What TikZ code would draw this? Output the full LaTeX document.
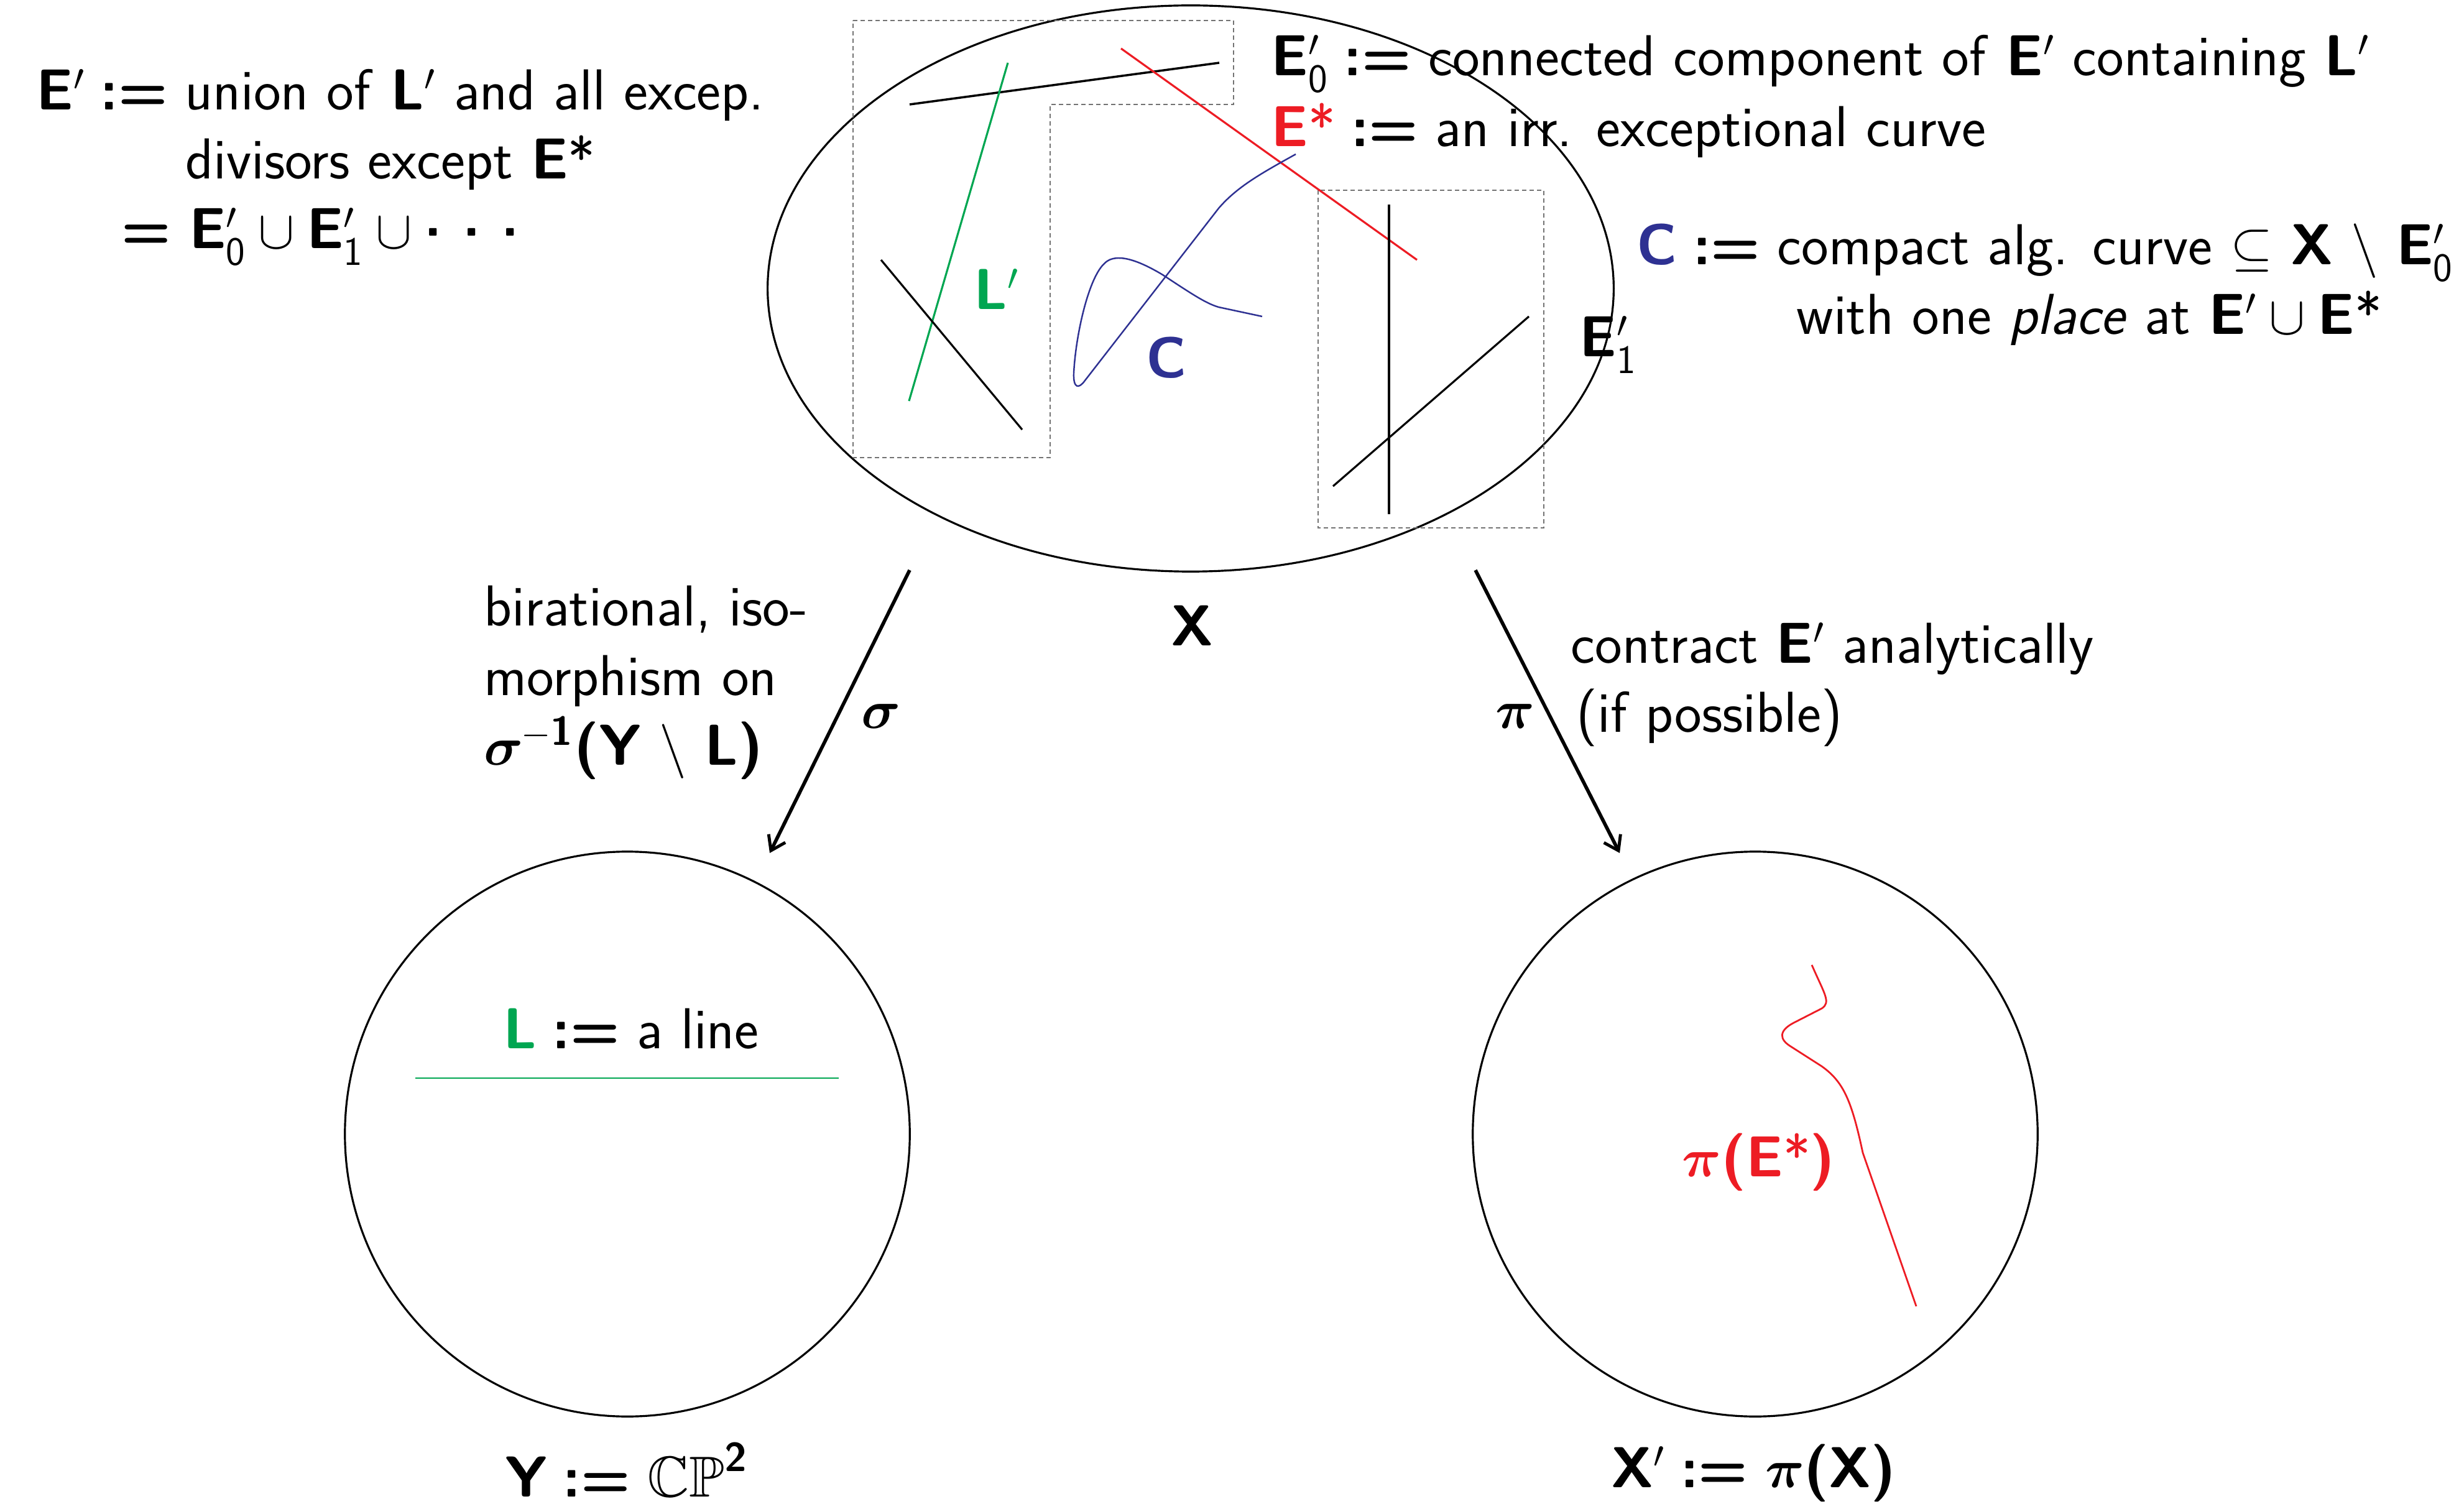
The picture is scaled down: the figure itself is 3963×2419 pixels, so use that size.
\documentclass[tikz,border=0pt]{standalone}
\usepackage{amsmath,amssymb}
\usepackage{fontspec}
\usetikzlibrary{arrows.meta,shapes.geometric}
\definecolor{cgreen}{HTML}{00A651}
\definecolor{cred}{HTML}{ED1C24}
\definecolor{cblue}{HTML}{2E3192}
\newcommand\bb[1]{\textsf{\bfseries #1}}
\newcommand\dfq{\hspace{0.27em}\textsf{\bfseries :=}\hspace{0.3em}}
\newcommand\zr{\textsf{0}}
\newcommand\on{\textsf{1}}
\newcommand\myast{\textsf{\mdseries *}}
\newcommand\bsig{{\usefont{OML}{cmm}{b}{it}\symbol{27}}}
\newcommand\bpi{{\usefont{OML}{cmm}{b}{it}\symbol{25}}}
\newcommand\dts{\raisebox{0.22em}{\bb{.}\hspace{0.36em}\bb{.}\hspace{0.36em}\bb{.}}}
\begin{document}
\begin{tikzpicture}[x=0.01cm,y=-0.01cm,
  txt/.style={anchor=base west,inner sep=0pt,font=\sffamily\fontsize{26.4}{31}\selectfont},
  ctxt/.style={anchor=base,inner sep=0pt,font=\sffamily\fontsize{26.4}{31}\selectfont},
  thin line/.style={line width=0.9pt},
  dbox/.style={draw=black!55,dash pattern=on 0.07cm off 0.05cm,line width=0.6pt},
  maparrow/.style={line width=1.6pt,-{Straight Barb[length=0.22cm,width=0.3cm,line width=1.4pt]}}]
\useasboundingbox (0,0) rectangle (3963,2419);
% top surface X
\node[draw,thin line,ellipse,minimum width=13.6cm,minimum height=9.1cm,inner sep=0pt] (Xsurf) at (1915,464) {};
% dashed regions
\draw[dbox] (1372,33) -- (1984,33) -- (1984,168) -- (1689,168) -- (1689,736) -- (1372,736) -- cycle;
\draw[dbox] (2120,306) rectangle (2483,849);
% curves in X
\draw[line width=1pt] (1463,168) -- (1961,101);
\draw[cgreen,line width=0.9pt] (1621,101) -- (1462,645);
\draw[line width=0.9pt] (1417,418) -- (1644,691);
\draw[cred,line width=0.9pt] (1803,78) -- (2279,418);
\draw[line width=0.9pt] (2234,329) -- (2234,827);
\draw[line width=0.9pt] (2459,509) -- (2144,782);
\draw[cblue,line width=0.7pt] (2084,248) .. controls (2030,278) and (1990,300) .. (1960,335)
  -- (1745,612) .. controls (1735,626) and (1726,625) .. (1727,600)
  .. controls (1730,540) and (1750,450) .. (1775,425)
  .. controls (1790,408) and (1820,412) .. (1870,442)
  .. controls (1920,475) and (1940,488) .. (1960,494) -- (2030,509);
% labels in X
\node[txt,text=cgreen] (Lp) at (1566,498) {\bb{L}$'$};
\node[txt,text=cblue] (Clab) at (1843,608) {\bb{C}};
\node[txt] (E1) at (2540,574) {\bb{E}$'_{\on}$};
% left definition
\node[txt] (d1) at (58,177) {\bb{E}$'$\dfq union of \bb{L}$'$ and all excep.};
\node[txt] (d2) at (298,288) {divisors except \bb{E}\myast};
\node[txt] (d3) at (195,400) {\bb{=} \bb{E}$'_{\zr}\cup{}$\bb{E}$'_{\on}\cup{}$\dts};
% right definitions
\node[txt] (r1) at (2044,122) {\bb{E}$'_{\zr}$\dfq connected component of \bb{E}$'$ containing \bb{L}$'$};
\node[txt] (r2) at (2044,236) {\textcolor{cred}{\bb{E}\myast}\dfq an irr. exceptional curve};
\node[txt] (r3) at (2632,426) {\textcolor{cblue}{\bb{C}}\dfq compact alg. curve $\subseteq$ \bb{X} $\setminus$ \bb{E}$'_{\zr}$};
\node[txt] (r4) at (2889,538) {with one \textit{place} at \bb{E}$'\cup{}$\bb{E}\myast};
% X label
\node[ctxt] (Xlab) at (1918,1038) {\bb{X}};
% arrows
\coordinate (s1) at (1463,917);
\coordinate (s2) at (1238,1372);
\coordinate (p1) at (2373,917);
\coordinate (p2) at (2605,1372);
\draw[maparrow] (s1) -- (s2);
\draw[maparrow] (p1) -- (p2);
\node[txt] (siglab) at (1385,1172) {\bsig};
\node[txt] (pilab) at (2405,1172) {\bpi};
\node[txt] (b1) at (778,1007) {birational, iso-};
\node[txt] (b2) at (778,1118) {morphism on};
\node[txt] (b3) at (778,1230) {\bsig$^{-\textsf{\bfseries 1}}$\bb{(Y} $\setminus$ \bb{L)}};
\node[txt] (c1) at (2526,1067) {contract \bb{E}$'$ analytically};
\node[txt] (c2) at (2535,1178) {(if possible)};
% Y
\node[draw,thin line,circle,minimum size=9.08cm,inner sep=0pt] (Ysurf) at (1009,1824) {};
\coordinate (la) at (668,1734);
\coordinate (lb) at (1349,1734);
\draw[cgreen,line width=0.8pt] (la) -- (lb);
\node[txt] (Ldef) at (809,1686) {\textcolor{cgreen}{\bb{L}}\dfq a line};
\node[txt] (Ylab) at (812,2407) {\bb{Y}\dfq$\mathbb{CP}^{\textsf{\bfseries 2}}$};
% X'
\node[draw,thin line,circle,minimum size=9.08cm,inner sep=0pt] (Xpsurf) at (2823,1824) {};
\draw[cred,line width=0.8pt] (2914,1552) .. controls (2935,1600) and (2945,1612) .. (2930,1622)
  -- (2885,1645) .. controls (2860,1658) and (2862,1672) .. (2880,1683)
  -- (2930,1715) .. controls (2965,1740) and (2978,1770) .. (2996,1854)
  -- (3082,2101);
\node[txt,text=cred] (piE) at (2705,1892) {\bpi\bb{(E}\myast\bb{)}};
\node[txt] (Xplab) at (2591,2392) {\bb{X}$'$\dfq\bpi\bb{(X)}};
\end{tikzpicture}
\end{document}
